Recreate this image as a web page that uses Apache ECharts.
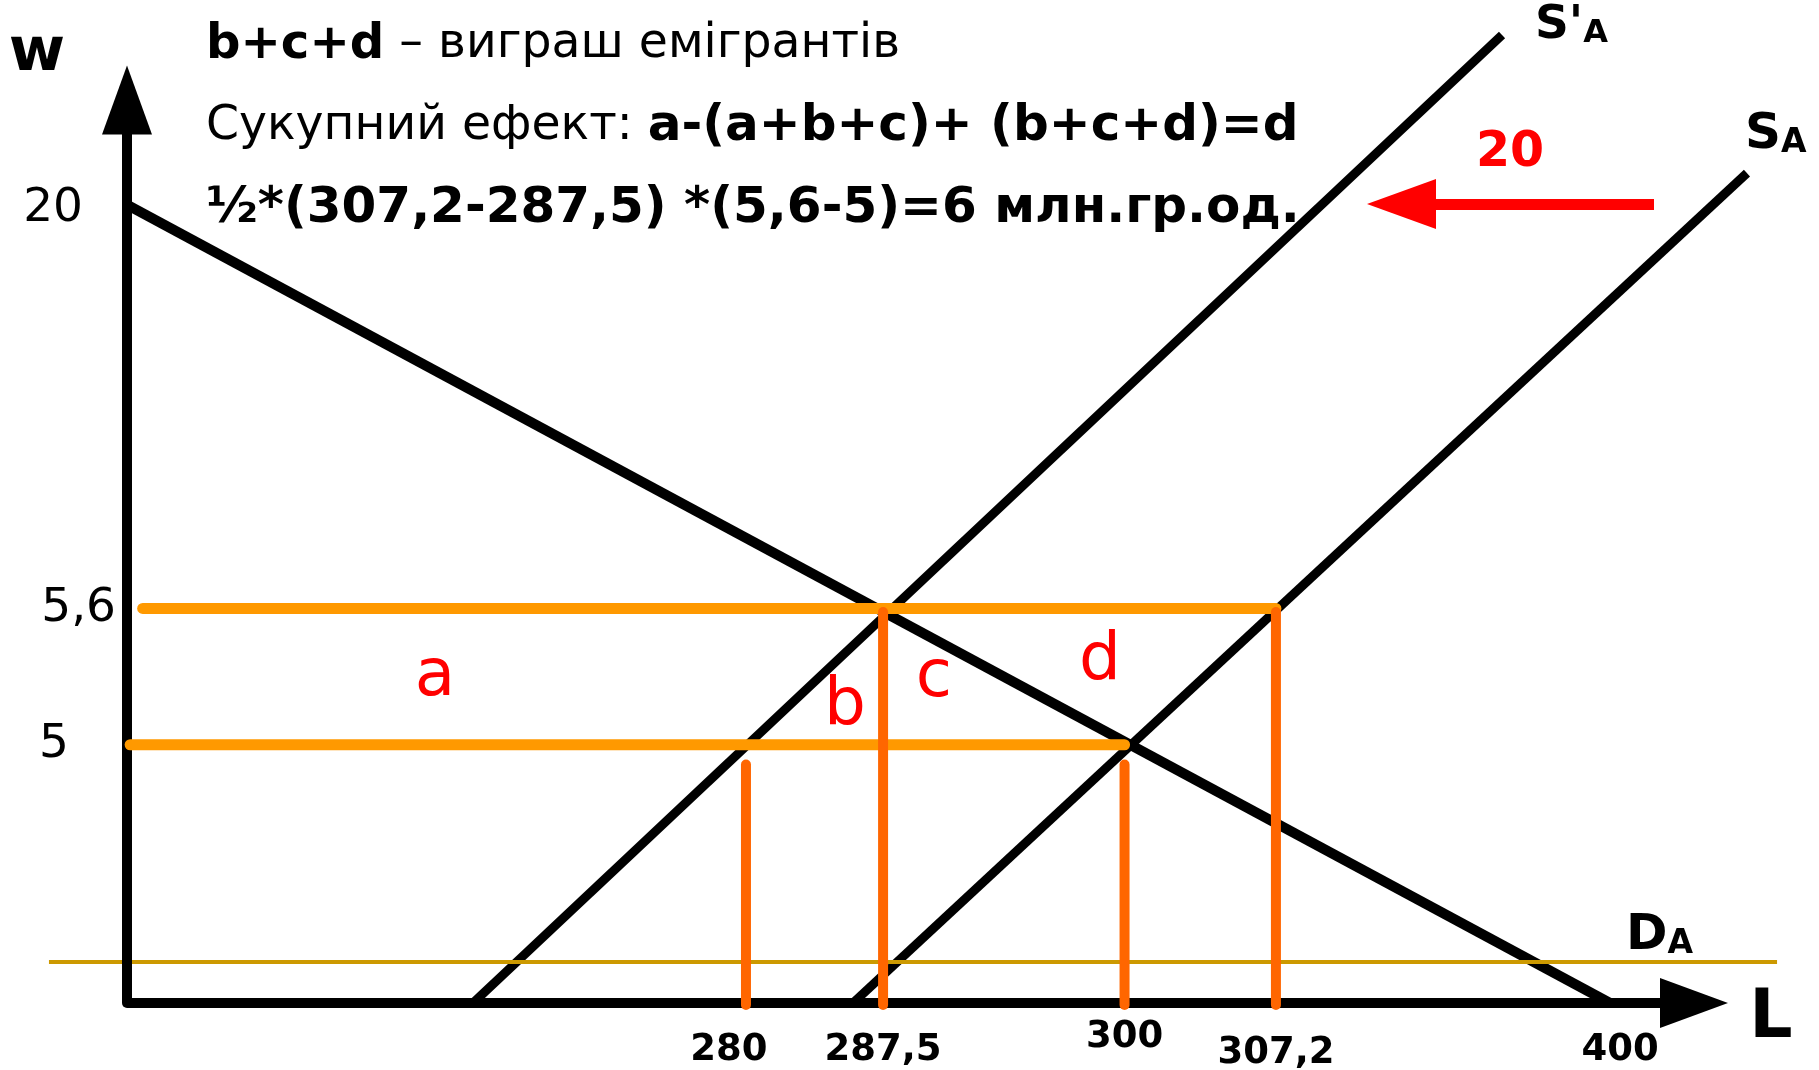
<!DOCTYPE html>
<html>
<head>
<meta charset="utf-8">
<script src="https://cdn.jsdelivr.net/npm/echarts@6/dist/echarts.min.js"></script>
<style>html,body{margin:0;padding:0;background:#fff}#chart{width:1819px;height:1070px}</style>
</head>
<body>
<div id="chart"></div>
<script>
const FONT = "'DejaVu Sans', Verdana, sans-serif";

// ---- Data (schematic diagram: axis units, tick labels as printed) ----
const wTickLabels = ['20', '5,6', '5'];
const wTickAt = [88.4, 43.7, 28.6];
const LTickLabels = ['280', '287,5', '300', '307,2', '400'];
const LTickAt = [39.5, 48.25, 63.66, 73.32, 94.64];

const axisL = [[0, 0], [100, 0]];                  // L axis (ends in an arrow)
const demandDA = [[0, 88.4], [94.64, 0]];          // DA
const supplyS1 = [[22.08, 0], [87.75, 107.2]];     // S'A (after the shift of 20)
const supplySA = [[46.33, 0], [103.38, 91.9]];     // SA
const baseLine = [[-4.98, 4.54], [105.3, 4.54]];   // thin olive line
const wage56 = [[1.0, wTickAt[1]], [LTickAt[3], wTickAt[1]]];
const wage5 = [[0.2, wTickAt[2]], [LTickAt[2], wTickAt[2]]];
const dropTops = [26.4, 43.3, 26.4, 43.3];        // tops of the vertical drop lines
const dropBottom = -0.22;

// ---- Layout: x unit = 15.67 px, value 0 of L sits at 127 px ----
const GRID_LEFT = 45.52, GRID_RIGHT = 15.31, X_MIN = -5.2, X_MAX = 107;
const Y_AXIS_SHIFT = 127 - GRID_LEFT;

// ---- Helpers ----
function lineSeries(name, data, color, width, z, cap) {
  return {
    type: 'line', name, data, symbol: 'none', silent: true, clip: false, z,
    lineStyle: { color, width, cap: cap || 'butt' }, animation: false
  };
}
const series = [
  lineSeries('DA', demandDA, '#000', 10, 2),
  lineSeries("S'A", supplyS1, '#000', 9, 2),
  lineSeries('SA', supplySA, '#000', 9, 2),
  lineSeries('base', baseLine, '#CC9900', 4, 3),
  {
    type: 'line', name: 'L axis', silent: true, clip: false, z: 4, animation: false,
    symbol: 'triangle', showSymbol: true, showAllSymbol: true,
    lineStyle: { color: '#000', width: 10 }, itemStyle: { color: '#000' },
    data: [
      { value: axisL[0], symbol: 'none' },
      { value: axisL[1], symbol: 'triangle', symbolSize: [50, 68], symbolRotate: -90 }
    ]
  },
  lineSeries('w=5,6', wage56, '#FF9900', 11, 5, 'round'),
  lineSeries('w=5', wage5, '#FF9900', 11, 5, 'round')
];
LTickAt.slice(0, 4).forEach((x, i) => {
  series.push(lineSeries('drop' + i, [[x, dropTops[i]], [x, dropBottom]], '#FF6600', 10, 6, 'round'));
});

function tok(size, weight, extra) {
  return Object.assign({ fontSize: size, fontWeight: weight, fontFamily: FONT, color: '#000' }, extra || {});
}
function txt(x, y, text, size, weight, fill, extra) {
  return { type: 'text', x, y, z: 10, style: Object.assign({ text, align: 'center', verticalAlign: 'middle',
    fontSize: size, fontWeight: weight, fontFamily: FONT, fill }, extra || {}) };
}
function subLabel(x, y, main, sub, s1, s2) {
  return { type: 'text', x, y, z: 10, style: { text: '{s|' + main + '}{a|' + sub + '}', verticalAlign: 'middle',
    rich: { s: { fontSize: s1, fontWeight: 'bold', fontFamily: FONT, fill: '#000', verticalAlign: 'bottom', lineHeight: s1 },
            a: { fontSize: s2, fontWeight: 'bold', fontFamily: FONT, fill: '#000', verticalAlign: 'bottom', lineHeight: s2 } } } };
}
const RB = { fontSize: 50, fontWeight: 'bold', fontFamily: FONT, fill: '#000' };
const RN = { fontSize: 47.3, fontFamily: FONT, fill: '#000' };

const option = {
  animation: false,
  backgroundColor: '#fff',
  grid: { left: GRID_LEFT, right: GRID_RIGHT, top: 100, bottom: 67, containLabel: false, outerBoundsMode: 'none' },
  xAxis: {
    type: 'value', min: X_MIN, max: X_MAX, z: 4,
    axisLine: { show: false },
    axisTick: { show: false }, splitLine: { show: false },
    axisLabel: {
      customValues: LTickAt, margin: 14, fontFamily: FONT, fontSize: 37, fontWeight: 'bold', color: '#000',
      formatter: v => { const i = LTickAt.indexOf(v); return '{x' + i + '|' + LTickLabels[i] + '}'; },
      rich: {
        x0: tok(37, 'bold', { padding: [15, 34, 0, 0] }),
        x1: tok(37, 'bold', { padding: [15, 0, 0, 0] }),
        x2: tok(37, 'bold', { padding: [2, 0, 0, 0] }),
        x3: tok(37, 'bold', { padding: [18, 0, 0, 0] }),
        x4: tok(37, 'bold', { padding: [15, 0, 0, 20] })
      }
    }
  },
  yAxis: {
    type: 'value', min: 0, max: 100, z: 4, offset: -Y_AXIS_SHIFT,
    axisLine: { show: true, onZero: false, symbol: ['none', 'triangle'], symbolSize: [50, 69],
      lineStyle: { color: '#000', width: 10 } },
    axisTick: { show: false }, splitLine: { show: false },
    axisLabel: {
      customValues: wTickAt, margin: 11, align: 'right', fontFamily: FONT, fontSize: 47, color: '#000',
      formatter: v => { const i = wTickAt.indexOf(v); return '{y' + i + '|' + wTickLabels[i] + '}'; },
      rich: {
        y0: tok(47, 'normal', { padding: [8, 33, 0, 0] }),
        y1: tok(47, 'normal'),
        y2: tok(47, 'normal', { padding: [0, 47, 0, 0] })
      }
    }
  },
  series,
  graphic: [
    { type: 'text', x: 206, y: 45, z: 10, style: { text: '{b|b+c+d}{n| – виграш емігрантів}', verticalAlign: 'middle',
      rich: { b: Object.assign({}, RB, { fontSize: 48.2 }), n: RN } } },
    { type: 'text', x: 206, y: 127, z: 10, style: { text: '{n|Сукупний ефект: }{b|a-(a+b+c)+ (b+c+d)=d}', verticalAlign: 'middle',
      rich: { b: RB, n: RN } } },
    { type: 'text', x: 206, y: 209, z: 10, style: Object.assign({ text: '½*(307,2-287,5) *(5,6-5)=6 млн.гр.од.', verticalAlign: 'middle' }, RB) },
    txt(37, 54, 'w', 61, 'bold', '#000'),
    txt(1771, 1019, 'L', 68, 'bold', '#000'),
    subLabel(1535, 26, "S'", 'A', 47, 32),
    subLabel(1745, 135, 'S', 'A', 50, 33),
    subLabel(1626, 936, 'D', 'A', 50, 33),
    txt(1510, 153, '20', 49, 'bold', '#FF0000'),
    { type: 'polygon', z: 10, shape: { points: [[1367, 204], [1436, 179], [1436, 229]] }, style: { fill: '#FF0000' } },
    { type: 'rect', z: 10, shape: { x: 1430, y: 199, width: 224, height: 11 }, style: { fill: '#FF0000' } },
    txt(435, 678, 'a', 66, 'normal', '#FF0000'),
    txt(845, 707, 'b', 66, 'normal', '#FF0000'),
    txt(934, 679, 'c', 66, 'normal', '#FF0000'),
    txt(1100, 662, 'd', 66, 'normal', '#FF0000')
  ]
};

const chart = echarts.init(document.getElementById('chart'), null, { renderer: 'canvas' });
chart.setOption(option);
</script>
</body>
</html>
